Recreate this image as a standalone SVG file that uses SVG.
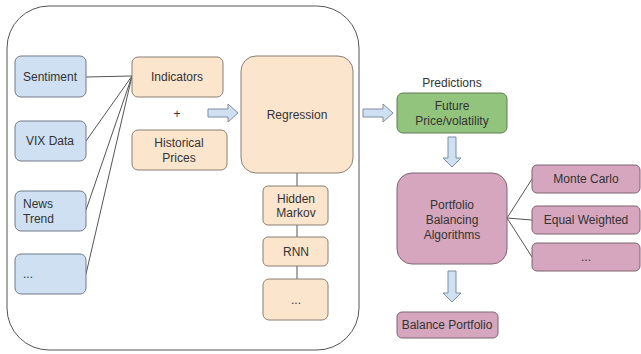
<svg xmlns="http://www.w3.org/2000/svg" width="641" height="354" viewBox="0 0 641 354">
<style>
text{font-family:"Liberation Sans",Arial,sans-serif;font-size:12px;fill:#333;text-anchor:middle}
.blue{fill:#cfe0f3;stroke:#6f7a86;stroke-width:1}
.org{fill:#fce5cd;stroke:#8a7f72;stroke-width:1}
.grn{fill:#93c47d;stroke:#5f7a55;stroke-width:1}
.pnk{fill:#d5a6bd;stroke:#7d6470;stroke-width:1}
.ln{stroke:#555;stroke-width:1;fill:none}
.arr{fill:#cfe0f3;stroke:#7f8da0;stroke-width:1}
</style>
<rect width="641" height="354" fill="#fff"/>
<rect id="container" x="7" y="6" width="352" height="344" rx="42" fill="none" stroke="#555" stroke-width="1"/>
<g id="connectors">
<line class="ln" x1="86" y1="77" x2="132" y2="76"/>
<line class="ln" x1="86" y1="141" x2="132" y2="76"/>
<line class="ln" x1="86" y1="210" x2="132" y2="76"/>
<line class="ln" x1="86" y1="274" x2="132" y2="76"/>
<line class="ln" x1="297" y1="173" x2="297" y2="186"/>
<line class="ln" x1="297" y1="225" x2="297" y2="237"/>
<line class="ln" x1="297" y1="266" x2="297" y2="279"/>
<line class="ln" x1="507" y1="218" x2="532" y2="179"/>
<line class="ln" x1="507" y1="218" x2="532" y2="220"/>
<line class="ln" x1="507" y1="218" x2="532" y2="257"/>
<path class="arr" d="M208,109 H228 V104 L238,113 L228,122 V117 H208 Z"/>
<path class="arr" d="M363,109 H383 V104 L393,113 L383,122 V117 H363 Z"/>
<path class="arr" d="M448,137 H456 V158 H461 L452,167 L443,158 H448 Z"/>
<path class="arr" d="M448,271 H456 V293 H461 L452,302 L443,293 H448 Z"/>
</g>
<g id="sentiment"><rect class="blue" x="15" y="56" width="71" height="41" rx="6"/><text x="50" y="81">Sentiment</text></g>
<g id="vix"><rect class="blue" x="15" y="121" width="71" height="40" rx="6"/><text x="50" y="145">VIX Data</text></g>
<g id="news"><rect class="blue" x="15" y="191" width="71" height="40" rx="6"/><text x="23" y="208" style="text-anchor:start">News</text><text x="23" y="223" style="text-anchor:start">Trend</text></g>
<g id="more-inputs"><rect class="blue" x="15" y="254" width="71" height="40" rx="6"/><text x="23" y="278" style="text-anchor:start">...</text></g>
<g id="indicators"><rect class="org" x="132" y="57" width="91" height="40" rx="6"/><text x="177" y="81">Indicators</text></g>
<g id="plus"><text x="177" y="118">+</text></g>
<g id="historical"><rect class="org" x="132" y="130" width="95" height="40" rx="6"/><text x="179" y="147">Historical</text><text x="179" y="162">Prices</text></g>
<g id="regression"><rect class="org" x="241" y="56" width="112" height="117" rx="15"/><text x="297" y="119">Regression</text></g>
<g id="hmm"><rect class="org" x="263" y="186" width="65" height="39" rx="5"/><text x="296" y="203">Hidden</text><text x="296" y="217">Markov</text></g>
<g id="rnn"><rect class="org" x="263" y="237" width="65" height="29" rx="5"/><text x="296" y="256">RNN</text></g>
<g id="more-models"><rect class="org" x="263" y="279" width="65" height="41" rx="6"/><text x="296" y="304">...</text></g>
<g id="predictions"><text x="452" y="87">Predictions</text></g>
<g id="future"><rect class="grn" x="397" y="93" width="110" height="40" rx="6"/><text x="452" y="110">Future</text><text x="452" y="125">Price/volatility</text></g>
<g id="portfolio"><rect class="pnk" x="397" y="173" width="110" height="91" rx="15"/><text x="452" y="209">Portfolio</text><text x="452" y="224">Balancing</text><text x="452" y="239">Algorithms</text></g>
<g id="montecarlo"><rect class="pnk" x="532" y="165" width="108" height="28" rx="5"/><text x="586" y="183">Monte Carlo</text></g>
<g id="equal"><rect class="pnk" x="532" y="206" width="108" height="28" rx="5"/><text x="586" y="224">Equal Weighted</text></g>
<g id="more-algos"><rect class="pnk" x="532" y="243" width="108" height="28" rx="5"/><text x="586" y="261">...</text></g>
<g id="balance"><rect class="pnk" x="397" y="312" width="101" height="26" rx="5"/><text x="447" y="329">Balance Portfolio</text></g>
</svg>
